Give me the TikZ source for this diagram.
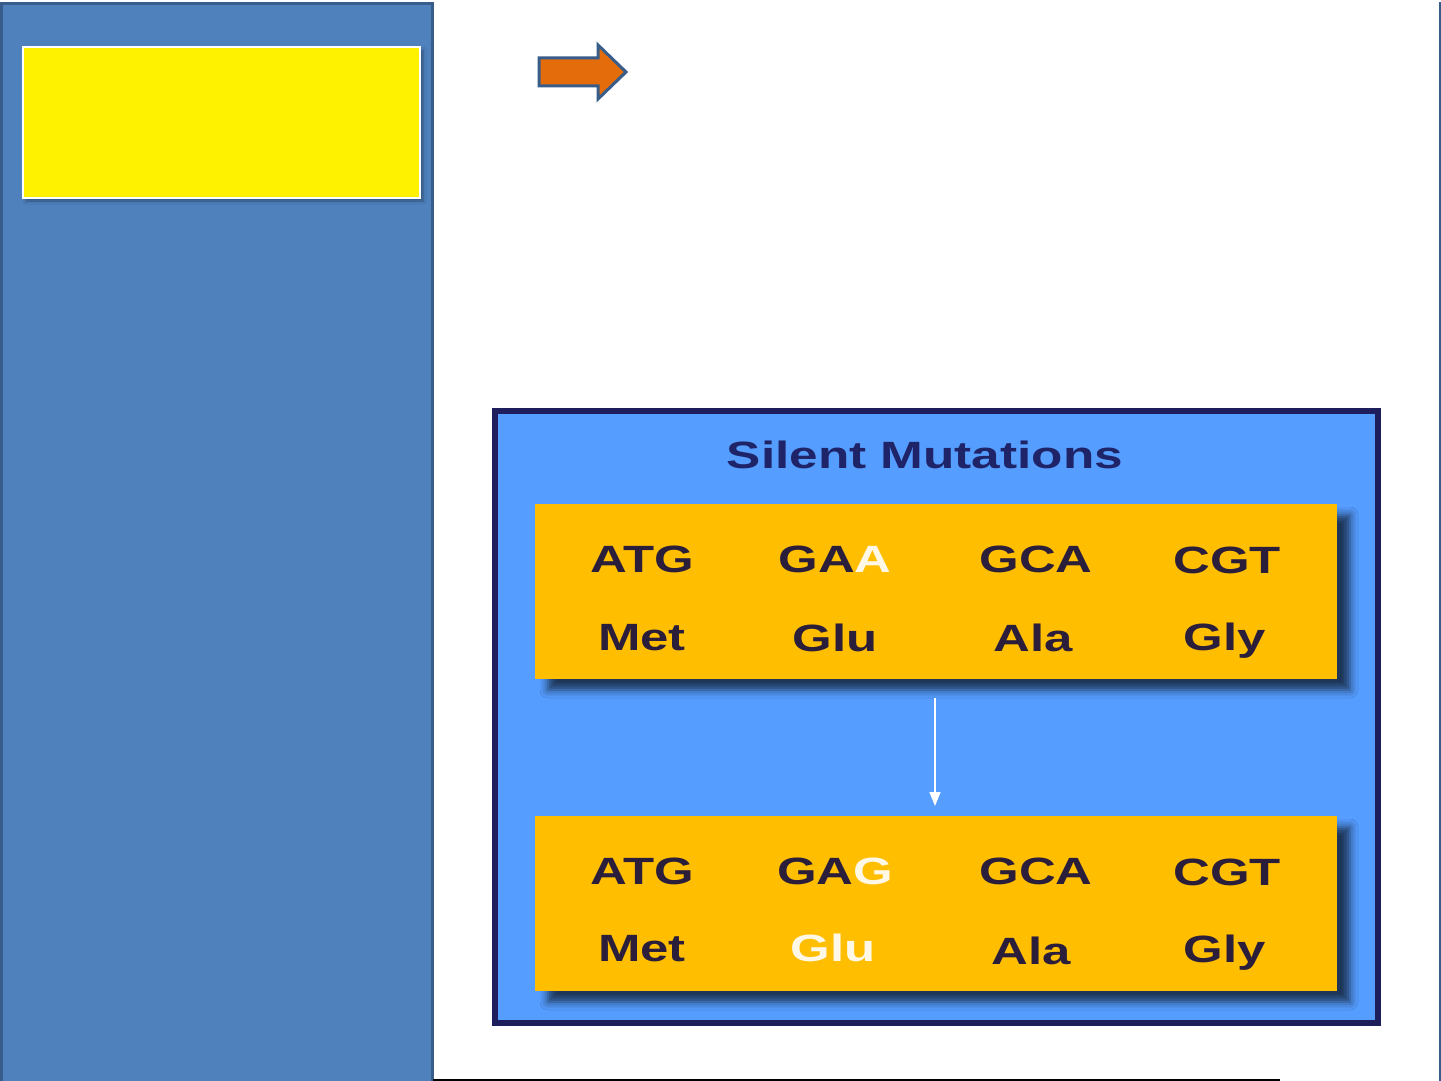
\documentclass[tikz,border=0pt]{standalone}
\usepackage{fontspec}
\setmainfont{Liberation Sans}
\usetikzlibrary{shadows.blur,arrows.meta}
\definecolor{panelblue}{HTML}{4F81BD}
\definecolor{panelline}{HTML}{385D8A}
\definecolor{diagblue}{HTML}{559DFE}
\definecolor{diagline}{HTML}{1E1E5C}
\definecolor{boxorange}{HTML}{FFBE00}
\definecolor{arroworange}{HTML}{E46C0A}
\definecolor{txtdark}{HTML}{2A1E3A}
\definecolor{titlenavy}{HTML}{1F2468}
\definecolor{txtwhite}{HTML}{FFF8E6}
\newcommand{\wide}[1]{\scalebox{1.34}[1]{#1}}
\tikzset{
  codon/.style={anchor=base, inner sep=0pt, text=txtdark, font=\fontsize{38}{42}\selectfont\bfseries},
  orbox/.style={fill=boxorange, draw=none, blur shadow={shadow xshift=13pt, shadow yshift=-11pt, shadow blur radius=8pt, shadow opacity=65}},
}
\begin{document}
\begin{tikzpicture}[x=1pt,y=-1pt]
\useasboundingbox (0,0) rectangle (1441,1081);
\fill[white] (0,0) rectangle (1441,1081);
% left panel
\draw[panelline, line width=3pt, fill=panelblue] (1.5,3.5) rectangle (432,1086);
% yellow box
\draw[white, line width=2pt, fill=yellow, blur shadow={shadow xshift=3pt, shadow yshift=-3pt, shadow blur radius=3pt, shadow opacity=35}] (23,47) rectangle (420,198);
% orange arrow
\draw[panelline, line width=3pt, fill=arroworange, line join=miter]
  (539,58) -- (598,58) -- (598,45) -- (626,72) -- (598,99) -- (598,86) -- (539,86) -- cycle;
% right and bottom lines
\draw[panelline, line width=1.5pt] (1440,2) -- (1440,1081);
\draw[black, line width=1.5pt] (433,1080) -- (1280,1080);
% diagram
\draw[diagline, line width=6pt, fill=diagblue] (495,411) rectangle (1378,1023);
\node[anchor=base, inner sep=0pt, text=titlenavy, font=\fontsize{38}{42}\selectfont\bfseries] (title) at (925,468) {\scalebox{1.35}[1]{Silent Mutations}};
\node[orbox, minimum width=802pt, minimum height=175pt, inner sep=0pt] (top) at (936,591.5) {};
\node[orbox, minimum width=802pt, minimum height=175pt, inner sep=0pt] (bot) at (936,903.5) {};
% top row
\node[codon] (t1) at (642,572) {\wide{ATG}};
\node[codon] (t2) at (835,572) {\wide{GA\textcolor{txtwhite}{A}}};
\node[codon] (t3) at (1036,572) {\wide{GCA}};
\node[codon] (t4) at (1227,573) {\wide{CGT}};
\node[codon] (a1) at (642,650) {\wide{Met}};
\node[codon] (a2) at (835,651) {\wide{Glu}};
\node[codon] (a3) at (1033,651) {\wide{Ala}};
\node[codon] (a4) at (1225,650) {\wide{Gly}};
% bottom row
\node[codon] (b1) at (642,884) {\wide{ATG}};
\node[codon] (b2) at (835,884) {\wide{GA\textcolor{txtwhite}{G}}};
\node[codon] (b3) at (1036,884) {\wide{GCA}};
\node[codon] (b4) at (1227,885) {\wide{CGT}};
\node[codon] (c1) at (642,961) {\wide{Met}};
\node[codon, text=txtwhite] (c2) at (833,961) {\wide{Glu}};
\node[codon] (c3) at (1031,964) {\wide{Ala}};
\node[codon] (c4) at (1225,962) {\wide{Gly}};
% white arrow
\coordinate (as) at (935,698);
\coordinate (ae) at (935,806);
\draw[white, line width=1.6pt, -{Triangle[width=11pt,length=14pt]}] (as) -- (ae);
\end{tikzpicture}
\end{document}
